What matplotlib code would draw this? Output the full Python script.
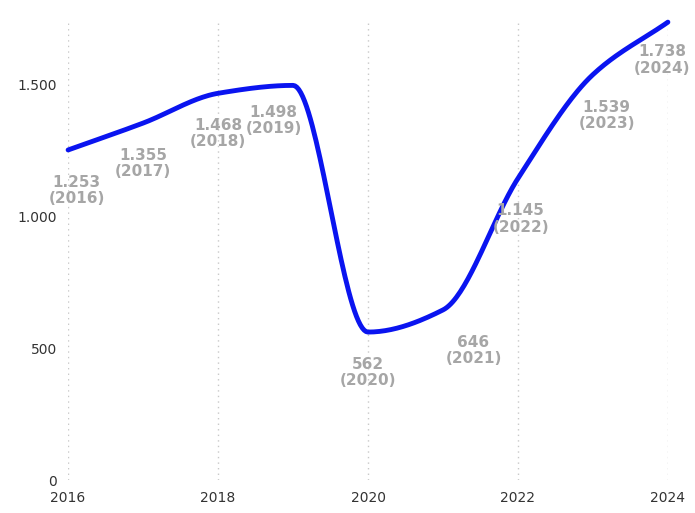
import numpy as np
import matplotlib.pyplot as plt
from matplotlib.ticker import FuncFormatter

years = [2016, 2017, 2018, 2019, 2020, 2021, 2022, 2023, 2024]
values = [1253, 1355, 1468, 1498, 562, 646, 1145, 1539, 1738]
labels = ['1.253', '1.355', '1.468', '1.498', '562', '646', '1.145', '1.539', '1.738']
# label offsets in points (dx, dy) relative to each point
offsets = [(6, -18), (0, -18), (0, -18), (-14, -14), (0, -18), (22, -18), (2, -18), (10, -18), (-4, -16)]


def monotone_cubic(x, y, n=40):
    # Fritsch-Carlson monotone cubic, just to draw the smooth line
    x = np.asarray(x, float); y = np.asarray(y, float)
    h = np.diff(x); d = np.diff(y) / h
    m = np.zeros_like(y)
    m[0], m[-1] = d[0], d[-1]
    for i in range(1, len(y) - 1):
        if d[i - 1] * d[i] <= 0:
            m[i] = 0
        else:
            m[i] = 2 / (1 / d[i - 1] + 1 / d[i])
    xs, ys = [], []
    for i in range(len(h)):
        t = np.linspace(0, 1, n)
        h00 = 2*t**3 - 3*t**2 + 1; h10 = t**3 - 2*t**2 + t
        h01 = -2*t**3 + 3*t**2; h11 = t**3 - t**2
        xs.append(x[i] + t*h[i])
        ys.append(h00*y[i] + h10*h[i]*m[i] + h01*y[i+1] + h11*h[i]*m[i+1])
    return np.concatenate(xs), np.concatenate(ys)


fig = plt.figure(figsize=(6.95, 5.13), dpi=100)
ax = fig.add_axes([0.098, 0.064, 0.863, 0.899])

sx, sy = monotone_cubic(years, values)
ax.plot(sx, sy, color='#0A14F0', linewidth=3.5, solid_capstyle='round', zorder=3)

for x, v, lab, (dx, dy) in zip(years, values, labels, offsets):
    ax.annotate(f'{lab}\n({x})', (x, v), xytext=(dx, dy), textcoords='offset points',
                ha='center', va='top', fontsize=11, fontweight='bold',
                color='#A6A6A6', linespacing=1.1, zorder=4)

ax.set_xlim(2016, 2024)
ax.set_ylim(0, 1750)
ax.set_xticks([2016, 2018, 2020, 2022, 2024])
ax.set_yticks([0, 500, 1000, 1500])
ax.yaxis.set_major_formatter(FuncFormatter(lambda v, p: f'{int(v):,}'.replace(',', '.')))
ax.grid(axis='x', linestyle=(0, (1, 3)), color='#C8C8C8', linewidth=1)
ax.set_axisbelow(True)
for s in ax.spines.values():
    s.set_visible(False)
ax.tick_params(length=0, labelsize=10, colors='#333333', pad=8)
ax.set_clip_on(False)
for line in ax.lines:
    line.set_clip_on(False)

fig.savefig('out.png', dpi=100)
